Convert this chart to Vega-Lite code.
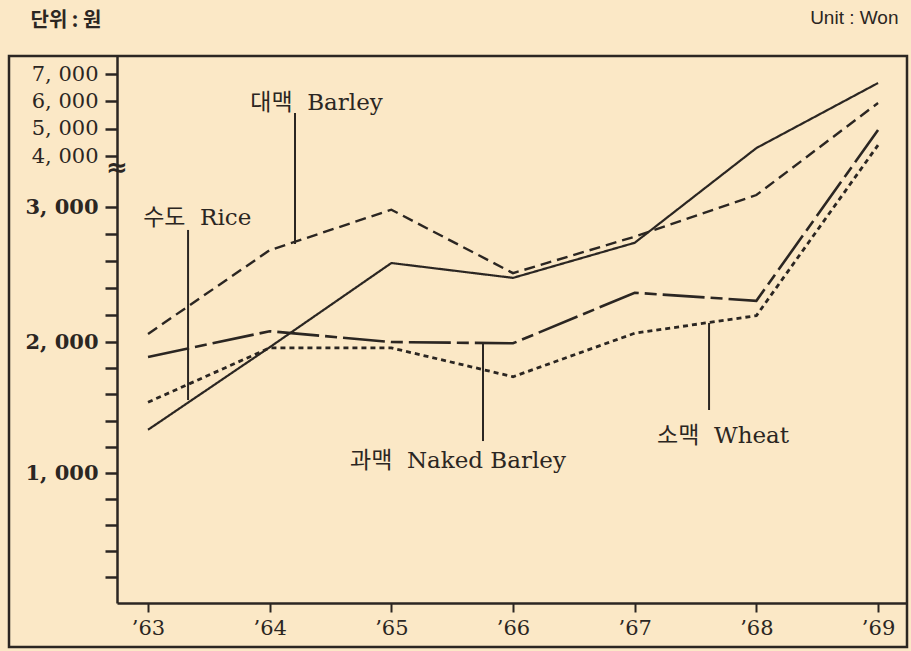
{
  "$schema": "https://vega.github.io/schema/vega-lite/v6.json",
  "width": 898,
  "height": 591,
  "autosize": {"type": "none"},
  "padding": {"left": 9, "top": 56, "right": 4, "bottom": 4},
  "background": "#fbe8c6",
  "config": {
    "view": {"stroke": "#2b2622", "strokeWidth": 2.5},
    "font": "DejaVu Serif"
  },
  "datasets": {
    "prices": [
      {"year": 1963, "series": "Rice", "price": 1330},
      {"year": 1964, "series": "Rice", "price": 1960},
      {"year": 1965, "series": "Rice", "price": 2585},
      {"year": 1966, "series": "Rice", "price": 2475},
      {"year": 1967, "series": "Rice", "price": 2735},
      {"year": 1968, "series": "Rice", "price": 4290},
      {"year": 1969, "series": "Rice", "price": 6670},
      {"year": 1963, "series": "Barley", "price": 2060},
      {"year": 1964, "series": "Barley", "price": 2680},
      {"year": 1965, "series": "Barley", "price": 2980},
      {"year": 1966, "series": "Barley", "price": 2510},
      {"year": 1967, "series": "Barley", "price": 2780},
      {"year": 1968, "series": "Barley", "price": 3235},
      {"year": 1969, "series": "Barley", "price": 5940},
      {"year": 1963, "series": "Naked Barley", "price": 1885},
      {"year": 1964, "series": "Naked Barley", "price": 2080},
      {"year": 1965, "series": "Naked Barley", "price": 2000},
      {"year": 1966, "series": "Naked Barley", "price": 1990},
      {"year": 1967, "series": "Naked Barley", "price": 2365},
      {"year": 1968, "series": "Naked Barley", "price": 2305},
      {"year": 1969, "series": "Naked Barley", "price": 4950},
      {"year": 1963, "series": "Wheat", "price": 1540},
      {"year": 1964, "series": "Wheat", "price": 1955},
      {"year": 1965, "series": "Wheat", "price": 1955},
      {"year": 1966, "series": "Wheat", "price": 1735},
      {"year": 1967, "series": "Wheat", "price": 2065},
      {"year": 1968, "series": "Wheat", "price": 2195},
      {"year": 1969, "series": "Wheat", "price": 4400}
    ],
    "labels": [
      {"label": "수도\u00a0\u00a0Rice", "year": 1962.96, "price": 2867},
      {"label": "대맥\u00a0\u00a0Barley", "year": 1963.84, "price": 5683},
      {"label": "과맥\u00a0\u00a0Naked\u00a0Barley", "year": 1964.66, "price": 1038},
      {"label": "소맥\u00a0\u00a0Wheat", "year": 1967.184, "price": 1229}
    ],
    "leaders": [
      {"series": "Rice", "year": 1963.329, "price": 2830, "price2": 1557},
      {"series": "Barley", "year": 1964.208, "price": 5573, "price2": 2726},
      {"series": "Naked Barley", "year": 1965.753, "price": 1992, "price2": 1244},
      {"series": "Wheat", "year": 1967.611, "price": 2141, "price2": 1481}
    ],
    "brk": [
      {"sym": "≈", "year": 1962.745, "price": 3760}
    ]
  },
  "layer": [
    {
      "data": {"name": "prices"},
      "mark": {"type": "line", "color": "#2b2622"},
      "encoding": {
        "x": {
          "field": "year",
          "type": "quantitative",
          "title": "Unit\u00a0:\u00a0Won",
          "scale": {"domain": [1962.745, 1969.238], "range": [108, 898], "nice": false, "zero": false},
          "axis": {
            "orient": "bottom",
            "offset": -44,
            "values": [1963, 1964, 1965, 1966, 1967, 1968, 1969],
            "tickCount": 50,
            "labelExpr": "'\u2019' + substring(toString(datum.value), 2)",
            "labelFont": "DejaVu Serif",
            "labelFontSize": 21,
            "labelColor": "#2b2622",
            "labelPadding": 5,
            "labelOverlap": false,
            "domainColor": "#2b2622",
            "domainWidth": 2.5,
            "tickColor": "#2b2622",
            "tickWidth": 2,
            "tickSize": 9,
            "grid": false,
            "titleFont": "Liberation Sans",
            "titleFontSize": 19,
            "titleFontWeight": "normal",
            "titleColor": "#2b2622",
            "titleAngle": 0,
            "titleAlign": "right",
            "titleBaseline": "middle",
            "titleX": 889,
            "titleY": -586
          }
        },
        "y": {
          "field": "price",
          "type": "quantitative",
          "title": "단위\u00a0:\u00a0원",
          "scale": {
            "domain": [0, 1000, 2000, 3000, 4000, 7000, 7659],
            "range": [547, 417, 286, 151, 100, 18, 0],
            "nice": false,
            "zero": false
          },
          "axis": {
            "orient": "left",
            "offset": -108,
            "values": [200, 400, 600, 800, 1000, 1200, 1400, 1600, 1800, 2000, 2200, 2400, 2600, 2800, 3000, 4000, 5000, 6000, 7000],
            "tickCount": 100,
            "labelExpr": "datum.value % 1000 == 0 ? replace(format(datum.value, ','), ',', ',\u00a0') : ''",
            "labelFont": "DejaVu Serif",
            "labelFontSize": 21,
            "labelFontWeight": {"condition": {"test": "datum.value <= 3000", "value": "bold"}, "value": "normal"},
            "labelColor": "#2b2622",
            "labelPadding": 7,
            "labelOverlap": false,
            "labelBound": false,
            "domainColor": "#2b2622",
            "domainWidth": 2.5,
            "tickColor": "#2b2622",
            "tickWidth": 2.5,
            "tickSize": 12,
            "grid": false,
            "titleFont": "Noto Sans CJK KR",
            "titleFontSize": 20,
            "titleFontWeight": "bold",
            "titleColor": "#2b2622",
            "titleAngle": 0,
            "titleAlign": "left",
            "titleBaseline": "middle",
            "titleX": -87,
            "titleY": -36
          }
        },
        "strokeDash": {
          "field": "series",
          "type": "nominal",
          "scale": {
            "domain": ["Rice", "Barley", "Naked Barley", "Wheat"],
            "range": [[1, 0], [11, 6], [42, 6, 12, 6], [5, 4]]
          },
          "legend": null
        },
        "strokeWidth": {
          "field": "series",
          "type": "nominal",
          "scale": {
            "domain": ["Rice", "Barley", "Naked Barley", "Wheat"],
            "range": [2.2, 2.8, 2.4, 2.6]
          },
          "legend": null
        }
      }
    },
    {
      "data": {"name": "leaders"},
      "mark": {"type": "rule", "color": "#2b2622", "strokeWidth": 2},
      "encoding": {
        "x": {"field": "year", "type": "quantitative", "title": "Unit\u00a0:\u00a0Won"},
        "y": {"field": "price", "type": "quantitative", "title": "단위\u00a0:\u00a0원"},
        "y2": {"field": "price2"}
      }
    },
    {
      "data": {"name": "labels"},
      "mark": {
        "type": "text",
        "align": "left",
        "baseline": "alphabetic",
        "font": "DejaVu Serif, Noto Sans CJK KR",
        "fontSize": 23,
        "color": "#2b2622"
      },
      "encoding": {
        "x": {"field": "year", "type": "quantitative", "title": "Unit\u00a0:\u00a0Won"},
        "y": {"field": "price", "type": "quantitative", "title": "단위\u00a0:\u00a0원"},
        "text": {"field": "label"}
      }
    },
    {
      "data": {"name": "brk"},
      "mark": {
        "type": "text",
        "align": "center",
        "baseline": "middle",
        "fontSize": 26,
        "fontWeight": "bold",
        "font": "DejaVu Sans",
        "color": "#2b2622"
      },
      "encoding": {
        "x": {"field": "year", "type": "quantitative", "title": "Unit\u00a0:\u00a0Won"},
        "y": {"field": "price", "type": "quantitative", "title": "단위\u00a0:\u00a0원"},
        "text": {"field": "sym"}
      }
    }
  ]
}
